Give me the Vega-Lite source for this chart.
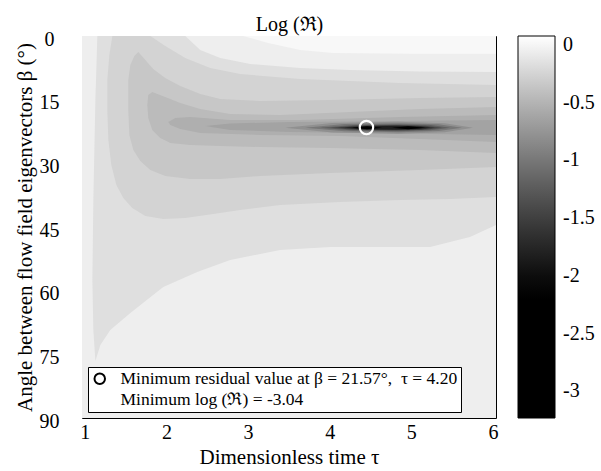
{
  "$schema": "https://vega.github.io/schema/vega-lite/v6.json",
  "autosize": {"type": "none"},
  "padding": {"left": 82, "top": 36, "right": 105, "bottom": 53},
  "width": 414,
  "height": 382,
  "background": "white",
  "config": {
    "font": "Liberation Serif",
    "view": {"stroke": "black", "strokeWidth": 1},
    "axis": {"labelFont": "Liberation Serif", "labelFontSize": 20, "labelColor": "black", "titleFont": "Liberation Serif", "titleFontSize": 21, "titleFontWeight": "normal", "titleColor": "black", "ticks": false, "domain": false, "grid": false},
    "legend": {"labelFont": "Liberation Serif", "labelColor": "black"}
  },
  "resolve": {"axis": {"x": "independent"}},
  "datasets": {
    "poly": [
      {"p": "p00", "v": 0.026, "i": 0, "t": 0.965, "b": 0},
      {"p": "p00", "v": 0.026, "i": 1, "t": 6.037, "b": 0},
      {"p": "p00", "v": 0.026, "i": 2, "t": 6.037, "b": 90},
      {"p": "p00", "v": 0.026, "i": 3, "t": 0.965, "b": 90},

      {"p": "p01", "v": -0.05, "i": 0, "t": 0.965, "b": 0},
      {"p": "p01", "v": -0.05, "i": 1, "t": 2.94, "b": 0},
      {"p": "p01", "v": -0.05, "i": 2, "t": 3.246, "b": 1.65},
      {"p": "p01", "v": -0.05, "i": 3, "t": 3.638, "b": 3.3},
      {"p": "p01", "v": -0.05, "i": 4, "t": 4.042, "b": 4.01},
      {"p": "p01", "v": -0.05, "i": 5, "t": 5.0, "b": 4.2},
      {"p": "p01", "v": -0.05, "i": 6, "t": 6.037, "b": 4.2},
      {"p": "p01", "v": -0.05, "i": 7, "t": 6.037, "b": 90},
      {"p": "p01", "v": -0.05, "i": 8, "t": 0.965, "b": 90},

      {"p": "p02", "v": -0.162, "i": 0, "t": 1.153, "b": 0},
      {"p": "p02", "v": -0.162, "i": 1, "t": 2.23, "b": 0},
      {"p": "p02", "v": -0.162, "i": 2, "t": 2.414, "b": 3.3},
      {"p": "p02", "v": -0.162, "i": 3, "t": 2.659, "b": 5.18},
      {"p": "p02", "v": -0.162, "i": 4, "t": 3.026, "b": 6.6},
      {"p": "p02", "v": -0.162, "i": 5, "t": 3.638, "b": 7.54},
      {"p": "p02", "v": -0.162, "i": 6, "t": 4.25, "b": 8.01},
      {"p": "p02", "v": -0.162, "i": 7, "t": 5.106, "b": 8.36},
      {"p": "p02", "v": -0.162, "i": 8, "t": 6.037, "b": 8.48},
      {"p": "p02", "v": -0.162, "i": 9, "t": 6.037, "b": 44.53},
      {"p": "p02", "v": -0.162, "i": 10, "t": 5.718, "b": 47.36},
      {"p": "p02", "v": -0.162, "i": 11, "t": 5.229, "b": 49.71},
      {"p": "p02", "v": -0.162, "i": 12, "t": 4.005, "b": 49.71},
      {"p": "p02", "v": -0.162, "i": 13, "t": 3.393, "b": 50.42},
      {"p": "p02", "v": -0.162, "i": 14, "t": 2.781, "b": 52.77},
      {"p": "p02", "v": -0.162, "i": 15, "t": 2.377, "b": 55.6},
      {"p": "p02", "v": -0.162, "i": 16, "t": 1.961, "b": 59.14},
      {"p": "p02", "v": -0.162, "i": 17, "t": 1.557, "b": 65.26},
      {"p": "p02", "v": -0.162, "i": 18, "t": 1.312, "b": 69.27},
      {"p": "p02", "v": -0.162, "i": 19, "t": 1.19, "b": 72.8},
      {"p": "p02", "v": -0.162, "i": 20, "t": 1.129, "b": 76.57},
      {"p": "p02", "v": -0.162, "i": 21, "t": 1.104, "b": 69.27},
      {"p": "p02", "v": -0.162, "i": 22, "t": 1.092, "b": 57.49},
      {"p": "p02", "v": -0.162, "i": 23, "t": 1.104, "b": 38.64},
      {"p": "p02", "v": -0.162, "i": 24, "t": 1.129, "b": 15.08},

      {"p": "p03", "v": -0.256, "i": 0, "t": 1.337, "b": 0},
      {"p": "p03", "v": -0.256, "i": 1, "t": 1.802, "b": 0},
      {"p": "p03", "v": -0.256, "i": 2, "t": 1.985, "b": 2.36},
      {"p": "p03", "v": -0.256, "i": 3, "t": 2.23, "b": 5.18},
      {"p": "p03", "v": -0.256, "i": 4, "t": 2.536, "b": 7.54},
      {"p": "p03", "v": -0.256, "i": 5, "t": 2.903, "b": 8.95},
      {"p": "p03", "v": -0.256, "i": 6, "t": 3.638, "b": 10.13},
      {"p": "p03", "v": -0.256, "i": 7, "t": 4.862, "b": 11.07},
      {"p": "p03", "v": -0.256, "i": 8, "t": 6.037, "b": 11.54},
      {"p": "p03", "v": -0.256, "i": 9, "t": 6.037, "b": 37.93},
      {"p": "p03", "v": -0.256, "i": 10, "t": 5.474, "b": 38.4},
      {"p": "p03", "v": -0.256, "i": 11, "t": 4.862, "b": 38.64},
      {"p": "p03", "v": -0.256, "i": 12, "t": 4.127, "b": 39.11},
      {"p": "p03", "v": -0.256, "i": 13, "t": 3.393, "b": 39.82},
      {"p": "p03", "v": -0.256, "i": 14, "t": 2.903, "b": 40.99},
      {"p": "p03", "v": -0.256, "i": 15, "t": 2.573, "b": 41.94},
      {"p": "p03", "v": -0.256, "i": 16, "t": 2.23, "b": 42.88},
      {"p": "p03", "v": -0.256, "i": 17, "t": 1.961, "b": 43.11},
      {"p": "p03", "v": -0.256, "i": 18, "t": 1.741, "b": 42.41},
      {"p": "p03", "v": -0.256, "i": 19, "t": 1.581, "b": 40.52},
      {"p": "p03", "v": -0.256, "i": 20, "t": 1.471, "b": 38.17},
      {"p": "p03", "v": -0.256, "i": 21, "t": 1.386, "b": 35.1},
      {"p": "p03", "v": -0.256, "i": 22, "t": 1.324, "b": 30.39},
      {"p": "p03", "v": -0.256, "i": 23, "t": 1.288, "b": 24.5},
      {"p": "p03", "v": -0.256, "i": 24, "t": 1.275, "b": 17.43},
      {"p": "p03", "v": -0.256, "i": 25, "t": 1.275, "b": 10.37},
      {"p": "p03", "v": -0.256, "i": 26, "t": 1.3, "b": 4.48},

      {"p": "p04", "v": -0.35, "i": 0, "t": 1.655, "b": 3.77},
      {"p": "p04", "v": -0.35, "i": 1, "t": 1.741, "b": 5.65},
      {"p": "p04", "v": -0.35, "i": 2, "t": 1.838, "b": 7.77},
      {"p": "p04", "v": -0.35, "i": 3, "t": 1.985, "b": 9.9},
      {"p": "p04", "v": -0.35, "i": 4, "t": 2.169, "b": 11.78},
      {"p": "p04", "v": -0.35, "i": 5, "t": 2.414, "b": 13.67},
      {"p": "p04", "v": -0.35, "i": 6, "t": 2.659, "b": 14.84},
      {"p": "p04", "v": -0.35, "i": 7, "t": 3.148, "b": 15.31},
      {"p": "p04", "v": -0.35, "i": 8, "t": 4.005, "b": 15.08},
      {"p": "p04", "v": -0.35, "i": 9, "t": 5.106, "b": 14.61},
      {"p": "p04", "v": -0.35, "i": 10, "t": 6.037, "b": 14.37},
      {"p": "p04", "v": -0.35, "i": 11, "t": 6.037, "b": 30.86},
      {"p": "p04", "v": -0.35, "i": 12, "t": 5.106, "b": 31.57},
      {"p": "p04", "v": -0.35, "i": 13, "t": 4.005, "b": 32.28},
      {"p": "p04", "v": -0.35, "i": 14, "t": 3.148, "b": 32.98},
      {"p": "p04", "v": -0.35, "i": 15, "t": 2.659, "b": 33.69},
      {"p": "p04", "v": -0.35, "i": 16, "t": 2.291, "b": 33.69},
      {"p": "p04", "v": -0.35, "i": 17, "t": 1.985, "b": 32.98},
      {"p": "p04", "v": -0.35, "i": 18, "t": 1.802, "b": 31.57},
      {"p": "p04", "v": -0.35, "i": 19, "t": 1.679, "b": 29.45},
      {"p": "p04", "v": -0.35, "i": 20, "t": 1.594, "b": 26.86},
      {"p": "p04", "v": -0.35, "i": 21, "t": 1.545, "b": 23.32},
      {"p": "p04", "v": -0.35, "i": 22, "t": 1.532, "b": 17.43},
      {"p": "p04", "v": -0.35, "i": 23, "t": 1.532, "b": 10.37},
      {"p": "p04", "v": -0.35, "i": 24, "t": 1.557, "b": 6.83},
      {"p": "p04", "v": -0.35, "i": 25, "t": 1.606, "b": 4.71},

      {"p": "p05", "v": -0.443, "i": 0, "t": 1.777, "b": 13.9},
      {"p": "p05", "v": -0.443, "i": 1, "t": 1.826, "b": 13.19},
      {"p": "p05", "v": -0.443, "i": 2, "t": 1.985, "b": 14.37},
      {"p": "p05", "v": -0.443, "i": 3, "t": 2.169, "b": 15.79},
      {"p": "p05", "v": -0.443, "i": 4, "t": 2.414, "b": 17.2},
      {"p": "p05", "v": -0.443, "i": 5, "t": 2.781, "b": 18.38},
      {"p": "p05", "v": -0.443, "i": 6, "t": 3.393, "b": 18.61},
      {"p": "p05", "v": -0.443, "i": 7, "t": 4.25, "b": 17.91},
      {"p": "p05", "v": -0.443, "i": 8, "t": 5.106, "b": 17.2},
      {"p": "p05", "v": -0.443, "i": 9, "t": 6.037, "b": 16.73},
      {"p": "p05", "v": -0.443, "i": 10, "t": 6.037, "b": 27.57},
      {"p": "p05", "v": -0.443, "i": 11, "t": 5.106, "b": 26.86},
      {"p": "p05", "v": -0.443, "i": 12, "t": 4.005, "b": 26.39},
      {"p": "p05", "v": -0.443, "i": 13, "t": 3.148, "b": 26.15},
      {"p": "p05", "v": -0.443, "i": 14, "t": 2.659, "b": 25.92},
      {"p": "p05", "v": -0.443, "i": 15, "t": 2.291, "b": 25.68},
      {"p": "p05", "v": -0.443, "i": 16, "t": 2.047, "b": 25.21},
      {"p": "p05", "v": -0.443, "i": 17, "t": 1.924, "b": 24.03},
      {"p": "p05", "v": -0.443, "i": 18, "t": 1.826, "b": 22.15},
      {"p": "p05", "v": -0.443, "i": 19, "t": 1.777, "b": 19.32},
      {"p": "p05", "v": -0.443, "i": 20, "t": 1.765, "b": 16.26},

      {"p": "p06", "v": -0.537, "i": 0, "t": 2.022, "b": 20.26},
      {"p": "p06", "v": -0.537, "i": 1, "t": 2.108, "b": 19.32},
      {"p": "p06", "v": -0.537, "i": 2, "t": 2.291, "b": 19.08},
      {"p": "p06", "v": -0.537, "i": 3, "t": 2.781, "b": 19.79},
      {"p": "p06", "v": -0.537, "i": 4, "t": 3.638, "b": 19.79},
      {"p": "p06", "v": -0.537, "i": 5, "t": 4.862, "b": 19.08},
      {"p": "p06", "v": -0.537, "i": 6, "t": 6.037, "b": 18.61},
      {"p": "p06", "v": -0.537, "i": 7, "t": 6.037, "b": 24.97},
      {"p": "p06", "v": -0.537, "i": 8, "t": 5.106, "b": 24.27},
      {"p": "p06", "v": -0.537, "i": 9, "t": 4.127, "b": 23.56},
      {"p": "p06", "v": -0.537, "i": 10, "t": 3.148, "b": 23.32},
      {"p": "p06", "v": -0.537, "i": 11, "t": 2.414, "b": 22.85},
      {"p": "p06", "v": -0.537, "i": 12, "t": 2.169, "b": 21.91},
      {"p": "p06", "v": -0.537, "i": 13, "t": 2.047, "b": 20.97},

      {"p": "p07", "v": -0.631, "i": 0, "t": 2.475, "b": 21.21},
      {"p": "p07", "v": -0.631, "i": 1, "t": 2.781, "b": 20.62},
      {"p": "p07", "v": -0.631, "i": 2, "t": 3.515, "b": 20.26},
      {"p": "p07", "v": -0.631, "i": 3, "t": 4.862, "b": 20.03},
      {"p": "p07", "v": -0.631, "i": 4, "t": 6.037, "b": 19.79},
      {"p": "p07", "v": -0.631, "i": 5, "t": 6.037, "b": 23.32},
      {"p": "p07", "v": -0.631, "i": 6, "t": 4.862, "b": 22.97},
      {"p": "p07", "v": -0.631, "i": 7, "t": 3.515, "b": 22.62},
      {"p": "p07", "v": -0.631, "i": 8, "t": 2.781, "b": 22.15},

      {"p": "p08", "v": -0.787, "i": 0, "t": 3.454, "b": 21.61},
      {"p": "p08", "v": -0.787, "i": 1, "t": 4.029, "b": 20.48},
      {"p": "p08", "v": -0.787, "i": 2, "t": 4.835, "b": 20.2},
      {"p": "p08", "v": -0.787, "i": 3, "t": 5.41, "b": 20.55},
      {"p": "p08", "v": -0.787, "i": 4, "t": 5.755, "b": 21.61},
      {"p": "p08", "v": -0.787, "i": 5, "t": 5.41, "b": 22.67},
      {"p": "p08", "v": -0.787, "i": 6, "t": 4.835, "b": 23.02},
      {"p": "p08", "v": -0.787, "i": 7, "t": 4.029, "b": 22.74},

      {"p": "p09", "v": -0.996, "i": 0, "t": 3.699, "b": 21.61},
      {"p": "p09", "v": -0.996, "i": 1, "t": 4.179, "b": 20.76},
      {"p": "p09", "v": -0.996, "i": 2, "t": 4.852, "b": 20.55},
      {"p": "p09", "v": -0.996, "i": 3, "t": 5.332, "b": 20.81},
      {"p": "p09", "v": -0.996, "i": 4, "t": 5.62, "b": 21.61},
      {"p": "p09", "v": -0.996, "i": 5, "t": 5.332, "b": 22.41},
      {"p": "p09", "v": -0.996, "i": 6, "t": 4.852, "b": 22.67},
      {"p": "p09", "v": -0.996, "i": 7, "t": 4.179, "b": 22.46},

      {"p": "p10", "v": -1.204, "i": 0, "t": 3.882, "b": 21.61},
      {"p": "p10", "v": -1.204, "i": 1, "t": 4.28, "b": 20.95},
      {"p": "p10", "v": -1.204, "i": 2, "t": 4.837, "b": 20.79},
      {"p": "p10", "v": -1.204, "i": 3, "t": 5.235, "b": 20.99},
      {"p": "p10", "v": -1.204, "i": 4, "t": 5.474, "b": 21.61},
      {"p": "p10", "v": -1.204, "i": 5, "t": 5.235, "b": 22.23},
      {"p": "p10", "v": -1.204, "i": 6, "t": 4.837, "b": 22.43},
      {"p": "p10", "v": -1.204, "i": 7, "t": 4.28, "b": 22.27},

      {"p": "p11", "v": -1.413, "i": 0, "t": 4.005, "b": 21.61},
      {"p": "p11", "v": -1.413, "i": 1, "t": 4.348, "b": 21.08},
      {"p": "p11", "v": -1.413, "i": 2, "t": 4.828, "b": 20.95},
      {"p": "p11", "v": -1.413, "i": 3, "t": 5.171, "b": 21.12},
      {"p": "p11", "v": -1.413, "i": 4, "t": 5.376, "b": 21.61},
      {"p": "p11", "v": -1.413, "i": 5, "t": 5.171, "b": 22.1},
      {"p": "p11", "v": -1.413, "i": 6, "t": 4.828, "b": 22.27},
      {"p": "p11", "v": -1.413, "i": 7, "t": 4.348, "b": 22.14},

      {"p": "p12", "v": -1.621, "i": 0, "t": 4.103, "b": 21.61},
      {"p": "p12", "v": -1.621, "i": 1, "t": 4.4, "b": 21.19},
      {"p": "p12", "v": -1.621, "i": 2, "t": 4.815, "b": 21.09},
      {"p": "p12", "v": -1.621, "i": 3, "t": 5.112, "b": 21.22},
      {"p": "p12", "v": -1.621, "i": 4, "t": 5.29, "b": 21.61},
      {"p": "p12", "v": -1.621, "i": 5, "t": 5.112, "b": 22.0},
      {"p": "p12", "v": -1.621, "i": 6, "t": 4.815, "b": 22.13},
      {"p": "p12", "v": -1.621, "i": 7, "t": 4.4, "b": 22.03},

      {"p": "p13", "v": -1.83, "i": 0, "t": 4.188, "b": 21.61},
      {"p": "p13", "v": -1.83, "i": 1, "t": 4.448, "b": 21.27},
      {"p": "p13", "v": -1.83, "i": 2, "t": 4.813, "b": 21.19},
      {"p": "p13", "v": -1.83, "i": 3, "t": 5.073, "b": 21.3},
      {"p": "p13", "v": -1.83, "i": 4, "t": 5.229, "b": 21.61},
      {"p": "p13", "v": -1.83, "i": 5, "t": 5.073, "b": 21.92},
      {"p": "p13", "v": -1.83, "i": 6, "t": 4.813, "b": 22.03},
      {"p": "p13", "v": -1.83, "i": 7, "t": 4.448, "b": 21.95},

      {"p": "p14", "v": -2.4, "i": 0, "t": 4.274, "b": 21.61},
      {"p": "p14", "v": -2.4, "i": 1, "t": 4.458, "b": 21.26},
      {"p": "p14", "v": -2.4, "i": 2, "t": 4.641, "b": 21.61},
      {"p": "p14", "v": -2.4, "i": 3, "t": 4.458, "b": 21.96},

      {"p": "p15", "v": -2.4, "i": 0, "t": 4.764, "b": 21.61},
      {"p": "p15", "v": -2.4, "i": 1, "t": 4.96, "b": 21.26},
      {"p": "p15", "v": -2.4, "i": 2, "t": 5.168, "b": 21.61},
      {"p": "p15", "v": -2.4, "i": 3, "t": 4.96, "b": 21.96}
    ],
    "mk": [
      {"t": 4.45, "b": 21.57, "lab": "Minimum residual value at β = 21.57°,\u00a0 τ = 4.20"}
    ]
  },
  "layer": [
    {
      "data": {"name": "poly"},
      "mark": {"type": "line", "filled": true, "interpolate": "linear-closed", "clip": true, "strokeWidth": 0},
      "encoding": {
        "x": {"field": "t", "type": "quantitative", "scale": {"domain": [0.965, 6.037], "nice": false, "zero": false}, "axis": {"values": [1, 2, 3, 4, 5, 6], "format": "d", "title": "Dimensionless time τ", "labelPadding": 4, "titlePadding": 4, "labelFont": "Liberation Serif"}},
        "y": {"field": "b", "type": "quantitative", "scale": {"domain": [0, 90], "reverse": true, "nice": false, "zero": false}, "axis": {"values": [0, 15, 30, 45, 60, 75, 90], "format": "d", "title": "Angle between flow field eigenvectors β (°)", "labelAlign": "center", "labelPadding": 33, "labelOffset": 3, "titlePadding": 4, "labelFont": "Liberation Serif"}},
        "detail": {"field": "p", "type": "nominal"},
        "order": {"field": "i", "type": "quantitative"},
        "color": {
          "field": "v", "type": "quantitative",
          "scale": {"domain": [-3.23, -2.08, 0.078], "range": ["#000000", "#000000", "#ffffff"], "clamp": true},
          "legend": {"orient": "right", "title": null, "offset": 22, "padding": 0, "gradientLength": 382, "gradientThickness": 37, "gradientStrokeColor": "black", "gradientStrokeWidth": 1, "values": [0, -0.5, -1, -1.5, -2, -2.5, -3], "labelExpr": "'' + datum.value", "labelFont": "Liberation Serif", "labelFontSize": 20, "labelOffset": 8, "labelOverlap": false}
        }
      }
    },
    {
      "data": {"name": "mk"},
      "mark": {"type": "point", "filled": false, "stroke": "white", "strokeWidth": 2.2, "size": 180, "opacity": 1},
      "encoding": {
        "x": {"field": "t", "type": "quantitative", "axis": {"orient": "top", "title": "Log (ℜ)", "labels": false, "ticks": false, "domain": false, "titleFontSize": 20, "titlePadding": 2}},
        "y": {"field": "b", "type": "quantitative"},
        "shape": {
          "field": "lab", "type": "nominal",
          "scale": {"domain": ["Minimum residual value at β = 21.57°,\u00a0 τ = 4.20", "Minimum log (ℜ) = -3.04"], "range": ["circle", "M0,0"]},
          "legend": {"orient": "bottom-left", "offset": 6, "title": null, "strokeColor": "black", "fillColor": "white", "padding": 3, "symbolStrokeColor": "black", "symbolStrokeWidth": 2, "symbolSize": 110, "symbolFillColor": "transparent", "labelFont": "Liberation Serif", "labelFontSize": 17.5, "labelLimit": 0, "labelOffset": 12, "rowPadding": 2}
        }
      }
    }
  ]
}
